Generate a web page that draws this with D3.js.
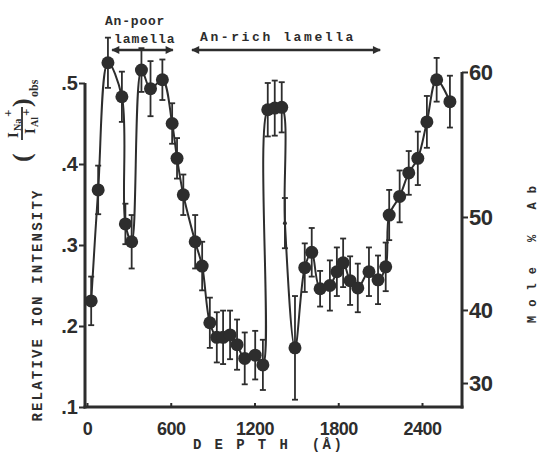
<!DOCTYPE html>
<html><head><meta charset="utf-8">
<script src="https://cdn.jsdelivr.net/npm/d3@7"></script>
<style>body{margin:0;background:#fff} svg{display:block}</style>
</head><body>
<svg id="c" width="540" height="455"></svg>
<script>
// ---- data ----
const depth = [30, 80, 150, 250, 275, 320, 390, 455, 540, 610, 645, 690,
  775, 825, 880, 930, 975, 1025, 1075, 1130, 1205, 1260,
  1295, 1345, 1395, 1490,
  1560, 1610, 1670, 1740, 1790, 1835, 1885, 1940, 2020, 2085, 2140,
  2165, 2240, 2305, 2370, 2435, 2505, 2600];
const ratio = [0.231, 0.368, 0.525, 0.483, 0.326, 0.304, 0.516, 0.493, 0.504, 0.450, 0.407, 0.362,
  0.304, 0.274, 0.204, 0.186, 0.186, 0.189, 0.177, 0.160, 0.164, 0.152,
  0.467, 0.469, 0.470, 0.173,
  0.272, 0.291, 0.246, 0.250, 0.267, 0.278, 0.256, 0.247, 0.267, 0.257, 0.273,
  0.337, 0.360, 0.389, 0.407, 0.452, 0.504, 0.477];
const err = [0.030, 0.030, 0.031, 0.031, 0.025, 0.033, 0.027, 0.034, 0.025, 0.025, 0.025, 0.025,
  0.033, 0.030, 0.031, 0.031, 0.033, 0.030, 0.031, 0.032, 0.030, 0.031,
  0.033, 0.034, 0.031, 0.064,
  0.030, 0.030, 0.022, 0.031, 0.030, 0.030, 0.030, 0.030, 0.030, 0.030, 0.030,
  0.031, 0.032, 0.027, 0.033, 0.032, 0.027, 0.032];
// faint intermediate point on the steep descent
const faintDepth = [1418];
const faintRatio = [0.327];
const faintErr = [0.031];

const yTicks = [0.1, 0.2, 0.3, 0.4, 0.5];
const yTickLabels = [".1", ".2", ".3", ".4", ".5"];
const xTicks = [0, 600, 1200, 1800, 2400];
const abTicks = [30, 40, 50, 60];
const abTickRatio = [0.1296, 0.2198, 0.3346, 0.5136];

const poorRange = [180, 615];
const richRange = [752, 2100];

// ---- drawing ----
const ink = "#2d2d2d";
const svg = d3.select("#c");
const x = d3.scaleLinear().domain([0, 2400]).range([87, 422]);
const y = d3.scaleLinear().domain([0.1, 0.5]).range([407, 83]);
const xLeft = 85, xRight = 462, yBottom = 407, yRightTop = y(abTickRatio[3]);

svg.append("rect").attr("width", 540).attr("height", 455).attr("fill", "#fff");

// frame lines
svg.append("line").attr("x1", xLeft).attr("x2", xLeft).attr("y1", y(0.5)).attr("y2", yBottom + 1.5)
  .attr("stroke", ink).attr("stroke-width", 3);
svg.append("line").attr("x1", xLeft - 1.5).attr("x2", xRight + 1.5).attr("y1", yBottom).attr("y2", yBottom)
  .attr("stroke", ink).attr("stroke-width", 3);
svg.append("line").attr("x1", xRight).attr("x2", xRight).attr("y1", yRightTop).attr("y2", yBottom + 1.5)
  .attr("stroke", ink).attr("stroke-width", 3);

// left axis
const gl = svg.append("g").attr("transform", `translate(${xLeft},0)`)
  .call(d3.axisLeft(y).tickValues(yTicks).tickFormat((d, i) => yTickLabels[i]).tickSizeInner(6).tickSizeOuter(0).tickPadding(1));
gl.select(".domain").remove();
gl.selectAll("line").attr("stroke", ink).attr("stroke-width", 2);
gl.selectAll("text").attr("fill", ink).attr("font-family", "Liberation Sans, Arial, sans-serif")
  .attr("font-weight", "bold").attr("font-size", 20);

// right axis (Mole % Ab)
const gr = svg.append("g").attr("transform", `translate(${xRight},0)`)
  .call(d3.axisRight(y).tickValues(abTickRatio).tickFormat((d, i) => abTicks[i]).tickSizeInner(6).tickSizeOuter(0).tickPadding(1));
gr.select(".domain").remove();
gr.selectAll("line").attr("stroke", ink).attr("stroke-width", 2);
gr.selectAll("text").attr("fill", ink).attr("font-family", "Liberation Sans, Arial, sans-serif")
  .attr("font-weight", "bold").attr("font-size", 22).attr("letter-spacing", -0.5);

// bottom axis
const gb = svg.append("g").attr("transform", `translate(0,${yBottom})`)
  .call(d3.axisBottom(x).tickValues(xTicks).tickFormat(d3.format("d")).tickSizeInner(-4).tickSizeOuter(0).tickPadding(15));
gb.select(".domain").remove();
gb.selectAll("line").attr("stroke", ink).attr("stroke-width", 2);
gb.selectAll("text").attr("fill", ink).attr("font-family", "Liberation Sans, Arial, sans-serif")
  .attr("font-weight", "bold").attr("font-size", 18).attr("letter-spacing", -0.5);

// curve through all points
const main = depth.map((d, i) => ({d, r: ratio[i], e: err[i]}));
const faint = faintDepth.map((d, i) => ({d, r: faintRatio[i], e: faintErr[i]}));
const all = main.concat(faint).sort((a, b) => a.d - b.d);
svg.append("path").datum(all)
  .attr("d", d3.line().x(p => x(p.d)).y(p => y(p.r)).curve(d3.curveCatmullRom.alpha(0.5)))
  .attr("fill", "none").attr("stroke", ink).attr("stroke-width", 2);

// error bars
const eb = svg.append("g").attr("stroke", ink).attr("stroke-width", 1.8);
all.forEach(p => {
  const cx = x(p.d), t = y(p.r + p.e), b = y(p.r - p.e);
  eb.append("line").attr("x1", cx).attr("x2", cx).attr("y1", t).attr("y2", b);
  eb.append("line").attr("x1", cx - 3).attr("x2", cx + 3).attr("y1", t).attr("y2", t);
  eb.append("line").attr("x1", cx - 3).attr("x2", cx + 3).attr("y1", b).attr("y2", b);
});

// markers
svg.append("g").selectAll("circle").data(main).join("circle")
  .attr("cx", p => x(p.d)).attr("cy", p => y(p.r)).attr("r", 6.5).attr("fill", ink);
svg.append("g").selectAll("circle").data(faint).join("circle")
  .attr("cx", p => x(p.d)).attr("cy", p => y(p.r)).attr("r", 2).attr("fill", ink);

// annotations
const mono = "Liberation Mono, Courier New, monospace";
const defs = svg.append("defs");
defs.append("marker").attr("id", "ah").attr("viewBox", "0 0 10 10").attr("refX", 9).attr("refY", 5)
  .attr("markerWidth", 9).attr("markerHeight", 8).attr("markerUnits", "userSpaceOnUse").attr("orient", "auto-start-reverse")
  .append("path").attr("d", "M0,0 L10,5 L0,10 Z").attr("fill", ink);
[poorRange, richRange].forEach(r => {
  svg.append("line").attr("x1", x(r[0])).attr("x2", x(r[1])).attr("y1", 50).attr("y2", 50)
    .attr("stroke", ink).attr("stroke-width", 2.5)
    .attr("marker-start", "url(#ah)").attr("marker-end", "url(#ah)");
});
svg.append("text").attr("x", 105).attr("y", 25).text("An-poor")
  .attr("font-family", mono).attr("font-weight", "bold").attr("font-size", 13).attr("fill", ink).attr("letter-spacing", 0.8);
svg.append("text").attr("x", 114).attr("y", 43).text("lamella")
  .attr("font-family", mono).attr("font-weight", "bold").attr("font-size", 13).attr("fill", ink).attr("letter-spacing", 1);
svg.append("text").attr("x", 200).attr("y", 41).text("An-rich lamella")
  .attr("font-family", mono).attr("font-weight", "bold").attr("font-size", 13).attr("fill", ink).attr("letter-spacing", 2.6);

// axis titles
svg.append("text").attr("transform", "translate(42,305) rotate(-90)").attr("text-anchor", "middle")
  .text("RELATIVE ION INTENSITY").attr("font-family", mono).attr("font-weight", "bold")
  .attr("font-size", 14).attr("fill", ink).attr("letter-spacing", 2.2);
svg.append("text").attr("x", 193).attr("y", 449)
  .text("D E P T H  (Å)").attr("font-family", mono).attr("font-weight", "bold").attr("font-size", 14)
  .attr("fill", ink).attr("letter-spacing", 2.4).style("white-space", "pre");
svg.append("text").attr("transform", "translate(536,250) rotate(-90)").attr("text-anchor", "middle")
  .text("Mole % Ab").attr("font-family", mono).attr("font-weight", "bold").attr("font-size", 12)
  .attr("fill", ink).attr("letter-spacing", 9);

// (I_Na+ / I_Al+)obs
const f = svg.append("g").attr("transform", "translate(21,130) rotate(-90)")
  .attr("fill", ink).attr("font-family", "Liberation Serif, Times New Roman, serif").attr("font-weight", "bold");
f.append("text").attr("x", -32).attr("y", 9).attr("font-size", 26).text("(");
f.append("text").attr("x", -8).attr("y", -3).attr("font-size", 15).text("I");
f.append("text").attr("x", -1).attr("y", 0).attr("font-size", 10).text("Na");
f.append("text").attr("x", 13).attr("y", -9).attr("font-size", 13).text("+");
f.append("line").attr("x1", -10).attr("x2", 23).attr("y1", 1).attr("y2", 1).attr("stroke", ink).attr("stroke-width", 1.8);
f.append("text").attr("x", -4).attr("y", 14).attr("font-size", 15).text("I");
f.append("text").attr("x", 3).attr("y", 17).attr("font-size", 10).text("Al");
f.append("text").attr("x", 14).attr("y", 9).attr("font-size", 13).text("+");
f.append("text").attr("x", 23).attr("y", 9).attr("font-size", 26).text(")");
f.append("text").attr("x", 33).attr("y", 17).attr("font-size", 12).text("obs");
</script>
</body></html>
